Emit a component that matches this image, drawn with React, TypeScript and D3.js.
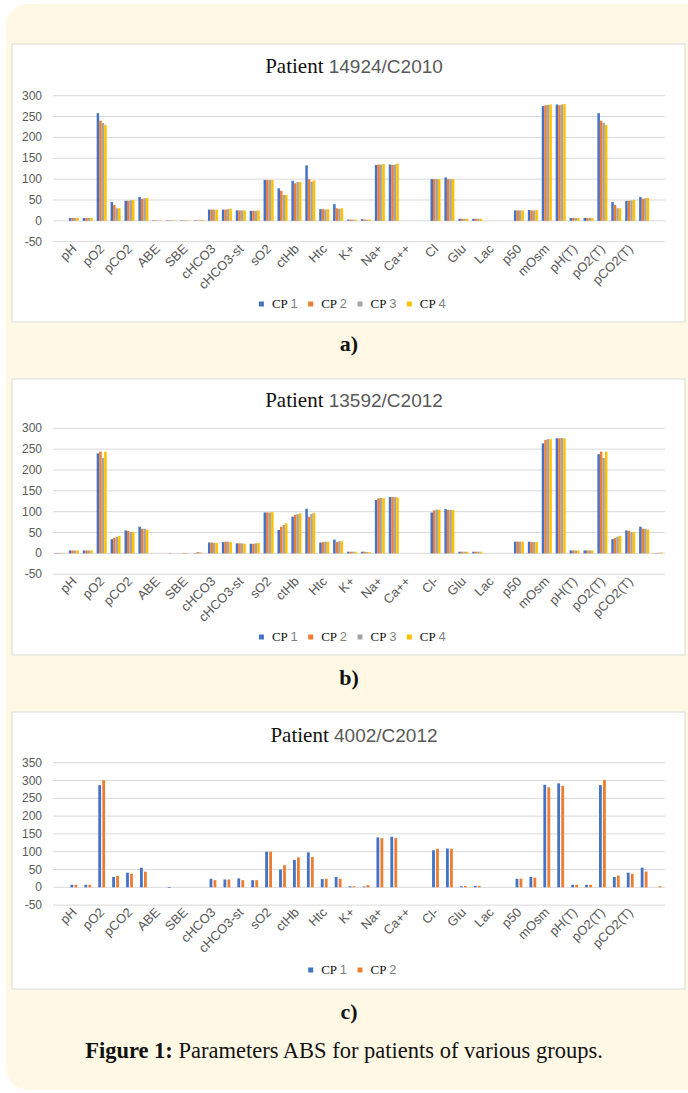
import { useEffect, useRef } from "react";
import * as d3 from "d3";

// 44 category slots on the x axis, only every other one carries a label
const labelsA = ["", "pH", "", "pO2", "", "pCO2", "", "ABE", "", "SBE", "", "cHCO3", "", "cHCO3-st", "", "sO2", "", "ctHb", "", "Htc", "", "K+", "", "Na+", "", "Ca++", "", "Cl", "", "Glu", "", "Lac", "", "p50", "", "mOsm", "", "pH(T)", "", "pO2(T)", "", "pCO2(T)", "", ""];
const labelsBC = ["", "pH", "", "pO2", "", "pCO2", "", "ABE", "", "SBE", "", "cHCO3", "", "cHCO3-st", "", "sO2", "", "ctHb", "", "Htc", "", "K+", "", "Na+", "", "Ca++", "", "Cl-", "", "Glu", "", "Lac", "", "p50", "", "mOsm", "", "pH(T)", "", "pO2(T)", "", "pCO2(T)", "", ""];

const seriesNames = ["CP 1", "CP 2", "CP 3", "CP 4"];
const seriesColors = ["#4472C4", "#ED7D31", "#A5A5A5", "#FFC000"];

const ticksAB = [-50, 0, 50, 100, 150, 200, 250, 300];
const ticksC = [-50, 0, 50, 100, 150, 200, 250, 300, 350];

// Patient 14924/C2010
const aCP1 = [0, 7, 7, 258, 45, 48, 57, 1, 1, 1, 1, 27, 27, 25, 24, 98, 78, 96, 133, 28, 40, 3, 4, 134, 135, 0, 0, 100, 104, 5, 5, 0, 0, 25, 26, 275, 279, 7, 7, 258, 45, 48, 57, 0];
const aCP2 = [0, 7, 7, 240, 38, 48, 53, 1, 1, 1, 1, 27, 27, 25, 24, 98, 72, 90, 100, 28, 30, 3, 3, 135, 134, 0, 0, 100, 100, 5, 5, 0, 0, 25, 25, 277, 277, 7, 7, 240, 38, 48, 53, 0];
const aCP3 = [0, 7, 7, 235, 30, 49, 54, 1, 1, 1, 1, 27, 28, 25, 24, 98, 62, 93, 94, 27, 29, 3, 3, 135, 135, 0, 0, 100, 100, 5, 5, 0, 0, 25, 25, 278, 279, 7, 7, 235, 30, 49, 54, 0];
const aCP4 = [0, 7, 7, 230, 30, 50, 55, 1, 1, 1, 2, 27, 29, 25, 25, 98, 62, 93, 97, 28, 30, 3, 3, 136, 137, 0, 0, 100, 100, 5, 5, 0, 0, 25, 26, 279, 280, 7, 7, 230, 30, 50, 55, 0];

// Patient 13592/C2012
const bCP1 = [1, 7, 7, 240, 34, 55, 64, 0, 0, 0, 1, 26, 27, 24, 23, 98, 56, 88, 107, 26, 33, 4, 4, 128, 135, 0, 0, 98, 106, 4, 4, 0, 0, 28, 28, 264, 276, 7, 7, 238, 34, 55, 64, 0.5];
const bCP2 = [1, 7, 7, 244, 37, 54, 59, 0, 1, 1, 3, 26, 28, 24, 23, 98, 64, 92, 88, 27, 27, 4, 4, 132, 135, 0, 0, 103, 104, 4, 4, 0, 0, 28, 27, 272, 276, 7, 7, 244, 37, 54, 59, 1];
const bCP3 = [1, 7, 7, 229, 40, 51, 59, 0, 0, 1, 2, 25, 28, 24, 24, 98, 68, 94, 95, 28, 29, 4, 3, 133, 135, 0, 0, 105, 104, 4, 4, 0, 0, 28, 27, 274, 277, 7, 7, 229, 40, 51, 59, 1.5];
const bCP4 = [1, 7, 7, 244, 42, 51, 57, 0, 0, 0, 1, 25, 27, 23, 25, 99, 72, 96, 97, 28, 29, 4, 3, 132, 134, 0, 0, 105, 104, 4, 4, 0, 0, 28, 27, 274, 276, 7, 7, 244, 42, 51, 57, 2];

// Patient 4002/C2012
const cCP1 = [0, 7, 7, 287, 29, 41, 55, 0, -2, 0, 0, 24, 22, 25, 20, 100, 50, 77, 98, 23, 29, 3, 2, 140, 142, 0, 0, 104, 109, 3, 4, 0, 0, 24, 29, 288, 292, 7, 7, 287, 29, 41, 55, 0];
const cCP2 = [0, 7, 7, 301, 32, 38, 44, 0, 0, 0, 0, 20, 22, 20, 20, 100, 62, 84, 85, 24, 24, 3, 6, 138, 138, 0, 0, 108, 108, 4, 4, 0, 0, 24, 27, 281, 285, 7, 7, 301, 33, 38, 44, 3];

const charts = [
  { id: "14924/C2010", labels: labelsA, ticks: ticksAB, series: [aCP1, aCP2, aCP3, aCP4] },
  { id: "13592/C2012", labels: labelsBC, ticks: ticksAB, series: [bCP1, bCP2, bCP3, bCP4] },
  { id: "4002/C2012", labels: labelsBC, ticks: ticksC, series: [cCP1, cCP2] },
];

// page layout of each chart panel
const layout = [
  { boxTop: 44, boxH: 278, titleY: 73, plotTop: 95.7, plotBottom: 241.7, legendY: 304, tag: "a)", tagY: 351 },
  { boxTop: 379, boxH: 276, titleY: 406.5, plotTop: 428.3, plotBottom: 574.2, legendY: 637, tag: "b)", tagY: 685 },
  { boxTop: 712, boxH: 277, titleY: 741.5, plotTop: 762.7, plotBottom: 905.1, legendY: 970, tag: "c)", tagY: 1019 },
];

const W = 688;
const H = 1093;
const sans = "'Liberation Sans', Arial, sans-serif";
const serif = "'Liberation Serif', 'Times New Roman', serif";

export default function App() {
  const svgRef = useRef(null);

  useEffect(() => {
    const svg = d3.select(svgRef.current);
    svg.selectAll("*").remove();

    // cream page background
    svg.append("rect").attr("width", W).attr("height", H).attr("fill", "#ffffff");
    svg
      .append("rect")
      .attr("x", 6)
      .attr("y", 4)
      .attr("width", W + 20)
      .attr("height", 1086)
      .attr("rx", 22)
      .attr("fill", "#FEF8E4");

    const left = 53;
    const right = 665;

    charts.forEach((chart, ci) => {
      const L = layout[ci];
      const g = svg.append("g");

      g.append("rect")
        .attr("x", 12)
        .attr("y", L.boxTop)
        .attr("width", 673)
        .attr("height", L.boxH)
        .attr("fill", "#fff")
        .attr("stroke", "#d9d9d9");

      const yMin = d3.min(chart.ticks);
      const yMax = d3.max(chart.ticks);
      const y = d3.scaleLinear().domain([yMin, yMax]).range([L.plotBottom, L.plotTop]);

      const x = d3
        .scaleBand()
        .domain(d3.range(chart.labels.length))
        .range([left, right])
        .paddingInner(0.28)
        .paddingOuter(0.14);

      const n = chart.series.length;
      const xSub = d3
        .scaleBand()
        .domain(d3.range(n))
        .range([0, x.bandwidth()])
        .paddingInner(n > 2 ? 0 : 0.3)
        .paddingOuter(n > 2 ? 0 : 0.4);

      // gridlines + y tick labels
      chart.ticks.forEach((t) => {
        g.append("line")
          .attr("x1", left)
          .attr("x2", right)
          .attr("y1", y(t))
          .attr("y2", y(t))
          .attr("stroke", "#d9d9d9")
          .attr("stroke-width", 1);
        g.append("text")
          .attr("x", 42)
          .attr("y", y(t) + 4)
          .attr("text-anchor", "end")
          .attr("font-family", sans)
          .attr("font-size", 12)
          .attr("fill", "#595959")
          .text(t);
      });

      // bars
      chart.series.forEach((vals, si) => {
        g.append("g")
          .selectAll("rect")
          .data(vals.map((v, i) => ({ v, i })).filter((d) => d.v !== 0))
          .join("rect")
          .attr("x", (d) => x(d.i) + xSub(si))
          .attr("width", xSub.bandwidth())
          .attr("y", (d) => Math.min(y(d.v), y(0)))
          .attr("height", (d) => Math.abs(y(d.v) - y(0)))
          .attr("fill", seriesColors[si]);
      });

      // x labels, rotated
      chart.labels.forEach((lab, i) => {
        if (!lab) return;
        const lx = x(i) + x.bandwidth() / 2 + 3.5;
        const ly = L.plotBottom + 8;
        g.append("text")
          .attr("transform", `translate(${lx},${ly}) rotate(-45)`)
          .attr("text-anchor", "end")
          .attr("font-family", sans)
          .attr("font-size", 13)
          .attr("fill", "#595959")
          .text(lab);
      });

      // title
      const title = g
        .append("text")
        .attr("x", 354)
        .attr("y", L.titleY)
        .attr("text-anchor", "middle");
      title
        .append("tspan")
        .attr("font-family", serif)
        .attr("font-size", 21)
        .attr("fill", "#111")
        .text("Patient ");
      title
        .append("tspan")
        .attr("font-family", sans)
        .attr("font-size", 19)
        .attr("fill", "#595959")
        .text(chart.id);

      // legend
      const itemW = 49.3;
      const startX = 350.5 - (n * itemW - 14) / 2;
      for (let si = 0; si < n; si++) {
        const lx = startX + si * itemW;
        g.append("rect")
          .attr("x", lx)
          .attr("y", L.legendY - 2.5)
          .attr("width", 5)
          .attr("height", 5)
          .attr("fill", seriesColors[si]);
        const [cp, num] = seriesNames[si].split(" ");
        const t = g
          .append("text")
          .attr("x", lx + 13)
          .attr("y", L.legendY + 4);
        t.append("tspan")
          .attr("font-family", serif)
          .attr("font-size", 13)
          .attr("fill", "#111")
          .text(cp + " ");
        t.append("tspan")
          .attr("font-family", sans)
          .attr("font-size", 13)
          .attr("fill", "#7f7f7f")
          .text(num);
      }

      // panel tag
      svg
        .append("text")
        .attr("x", 349)
        .attr("y", L.tagY)
        .attr("text-anchor", "middle")
        .attr("font-family", serif)
        .attr("font-weight", "bold")
        .attr("font-size", 22)
        .attr("fill", "#111")
        .text(L.tag);
    });

    // caption
    const cap = svg
      .append("text")
      .attr("x", 344)
      .attr("y", 1058)
      .attr("text-anchor", "middle")
      .attr("font-family", serif)
      .attr("font-size", 22.5)
      .attr("fill", "#111");
    cap.append("tspan").attr("font-weight", "bold").text("Figure 1:");
    cap.append("tspan").text(" Parameters ABS for patients of various groups.");
  }, []);

  return (
    <svg
      ref={svgRef}
      width={W}
      height={H}
      style={{ position: "absolute", left: 0, top: 0, display: "block" }}
    ></svg>
  );
}
